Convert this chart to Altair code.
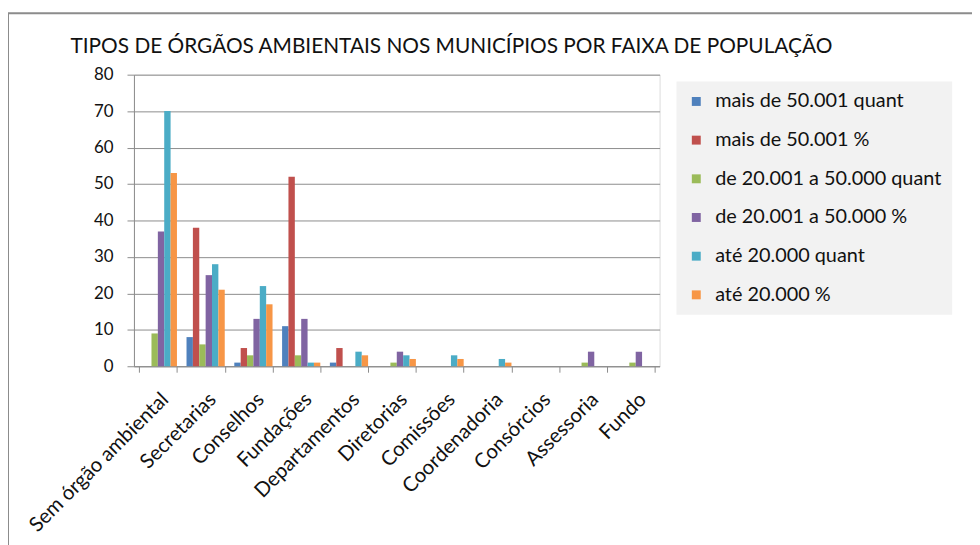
import altair as alt
import pandas as pd

title_text = "TIPOS DE ÓRGÃOS AMBIENTAIS NOS MUNICÍPIOS POR FAIXA DE POPULAÇÃO"
categories = ["Sem órgão ambiental", "Secretarias", "Conselhos", "Fundações",
              "Departamentos", "Diretorias", "Comissões", "Coordenadoria",
              "Consórcios", "Assessoria", "Fundo"]
series = ["mais de 50.001 quant", "mais de 50.001 %", "de 20.001 a 50.000 quant",
          "de 20.001 a 50.000 %", "até 20.000 quant", "até 20.000 %"]
colors = ["#4F81BD", "#C0504D", "#9BBB59", "#8064A2", "#4BACC6", "#F79646"]

mais50_quant = [0, 8, 1, 11, 1, 0, 0, 0, 0, 0, 0]
mais50_pct = [0, 38, 5, 52, 5, 0, 0, 0, 0, 0, 0]
de20a50_quant = [9, 6, 3, 3, 0, 1, 0, 0, 0, 1, 1]
de20a50_pct = [37, 25, 13, 13, 0, 4, 0, 0, 0, 4, 4]
ate20_quant = [70, 28, 22, 1, 4, 3, 3, 2, 0, 0, 0]
ate20_pct = [53, 21, 17, 1, 3, 2, 2, 1, 0, 0, 0]

values = [mais50_quant, mais50_pct, de20a50_quant, de20a50_pct, ate20_quant, ate20_pct]
rows = []
for s, vals in zip(series, values):
    for c, v in zip(categories, vals):
        rows.append({"categoria": c, "serie": s, "valor": v})
df = pd.DataFrame(rows)

FONT = "Lato"
GRAY = "#8C8C8C"

bars = alt.Chart(df).mark_bar().encode(
    x=alt.X("categoria:N", sort=categories, title=None,
            scale=alt.Scale(paddingInner=0.2, paddingOuter=0.1),
            axis=alt.Axis(labelAngle=315, labelFontSize=20.5, labelColor="#111",
                          labelFont=FONT, tickBand="extent", tickSize=6,
                          tickColor=GRAY, domainColor=GRAY, labelLimit=400,
                          labelPadding=17, labelAlign="right", labelBaseline="top")),
    xOffset=alt.XOffset("serie:N", sort=series, scale=alt.Scale(paddingInner=0, paddingOuter=0)),
    y=alt.Y("valor:Q", title=None,
            scale=alt.Scale(domain=[0, 80], nice=False),
            axis=alt.Axis(values=list(range(0, 81, 10)), grid=True, gridColor=GRAY,
                          gridWidth=1, domainColor=GRAY, tickColor=GRAY,
                          tickSize=7, labelFontSize=17, labelColor="#111",
                          labelFont=FONT, labelPadding=14)),
    color=alt.Color("serie:N", sort=series, title=None,
                    scale=alt.Scale(domain=series, range=colors),
                    legend=alt.Legend(orient="none", legendX=547, legendY=7,
                                      fillColor="#F2F2F2", padding=10,
                                      symbolType="square", symbolSize=81,
                                      symbolStrokeWidth=0, labelFontSize=20,
                                      labelFont=FONT, labelColor="#111",
                                      labelOffset=9, rowPadding=19,
                                      labelLimit=400)),
)

frame = alt.Chart(pd.DataFrame({"a": [0]})).mark_rect(
    fill=None, stroke=GRAY, strokeWidth=2, clip=False
).encode(x=alt.value(-127), x2=alt.value(1200), y=alt.value(-62), y2=alt.value(800))

title = alt.Chart(pd.DataFrame({"t": [title_text]})).mark_text(
    align="left", baseline="alphabetic", fontSize=21, font=FONT, color="#111"
).encode(text="t:N", x=alt.value(-64), y=alt.value(-22))

chart = alt.layer(frame, bars, title).properties(
    width=530, height=294,
    autosize=alt.AutoSizeParams(type="none"),
    padding={"left": 127, "top": 65, "right": 315, "bottom": 178},
).configure_view(fill="#EEECE3", stroke=None).configure(background="white")

chart.save("out.html", embed_options={"renderer": "svg", "actions": False})
